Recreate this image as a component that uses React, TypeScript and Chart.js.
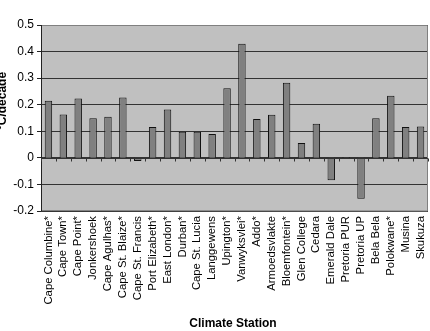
import React, { useEffect, useRef } from "react";
import { Chart, registerables } from "chart.js";

Chart.register(...registerables);

const stations: string[] = [
  "Cape Columbine*", "Cape Town*", "Cape Point*", "Jonkershoek", "Cape Agulhas*",
  "Cape St. Blaize*", "Cape St. Francis", "Port Elizabeth*", "East London*", "Durban*",
  "Cape St. Lucia", "Langgewens", "Upington*", "Vanwyksvlei*", "Addo*",
  "Armoedsvlakte", "Bloemfontein*", "Glen College", "Cedara", "Emerald Dale",
  "Pretoria PUR", "Pretoria UP", "Bela Bela", "Polokwane*", "Musina", "Skukuza",
];

const trend: number[] = [
  0.215, 0.163, 0.223, 0.149, 0.155,
  0.227, -0.012, 0.116, 0.182, 0.098,
  0.098, 0.09, 0.262, 0.429, 0.146,
  0.162, 0.283, 0.056, 0.128, -0.084,
  0.003, -0.154, 0.149, 0.234, 0.116, 0.118,
];

const yMin = -0.2;
const yMax = 0.5;
const yStep = 0.1;

const xTitle = "Climate Station";
const yTitle = "°C/decade";

const PLOT_LEFT = 41;
const PLOT_TOP = 25;
const PLOT_BOTTOM = 211;
const W = 430;
const H = 331;

// Grey plot panel, frame, zero-line tick marks and axis titles
const framePlugin = {
  id: "frame",
  beforeDraw(chart: any) {
    const { ctx, chartArea } = chart;
    ctx.save();
    ctx.fillStyle = "#c0c0c0";
    ctx.fillRect(chartArea.left, chartArea.top, chartArea.right - chartArea.left, chartArea.bottom - chartArea.top);
    ctx.restore();
  },
  afterDraw(chart: any) {
    const { ctx, chartArea, scales } = chart;
    const x = scales.x;
    const y = scales.y;
    ctx.save();
    // top and right border
    ctx.strokeStyle = "#808080";
    ctx.lineWidth = 1;
    ctx.beginPath();
    ctx.moveTo(chartArea.left, chartArea.top + 0.5);
    ctx.lineTo(chartArea.right - 0.5, chartArea.top + 0.5);
    ctx.lineTo(chartArea.right - 0.5, chartArea.bottom);
    ctx.lineTo(chartArea.left, chartArea.bottom - 0.5);
    ctx.stroke();
    // left axis line
    ctx.strokeStyle = "#222";
    ctx.beginPath();
    ctx.moveTo(chartArea.left + 0.5, chartArea.top);
    ctx.lineTo(chartArea.left + 0.5, chartArea.bottom);
    ctx.stroke();
    // tick marks along the zero line between categories
    const y0 = Math.round(y.getPixelForValue(0)) + 0.5;
    ctx.strokeStyle = "#333";
    ctx.beginPath();
    ctx.moveTo(chartArea.left, y0);
    ctx.lineTo(chartArea.right, y0);
    for (let i = 0; i <= stations.length; i++) {
      const px = Math.round(x.getPixelForValue(i - 0.5)) + 0.5;
      ctx.moveTo(px, y0);
      ctx.lineTo(px, y0 + 3);
    }
    ctx.stroke();
    // axis titles
    ctx.fillStyle = "#000";
    ctx.font = "bold 12px Arial, 'Liberation Sans', sans-serif";
    ctx.textAlign = "center";
    ctx.textBaseline = "middle";
    ctx.fillText(xTitle, 233, 324);
    ctx.translate(6, 101);
    ctx.rotate(-Math.PI / 2);
    ctx.textBaseline = "alphabetic";
    ctx.fillText(yTitle, 0, 0);
    ctx.restore();
  },
};

export default function App() {
  const ref = useRef<HTMLCanvasElement | null>(null);

  useEffect(() => {
    if (!ref.current) return;
    const chart = new Chart(ref.current, {
      type: "bar",
      data: {
        labels: stations,
        datasets: [
          {
            data: trend,
            backgroundColor: "#808080",
            borderColor: "#111",
            borderWidth: 1,
            barPercentage: 0.5,
            categoryPercentage: 1,
          },
        ],
      },
      options: {
        animation: false,
        responsive: false,
        devicePixelRatio: 1,
        layout: { padding: { top: PLOT_TOP, right: 2, left: 0, bottom: 0 } },
        plugins: { legend: { display: false }, tooltip: { enabled: false } },
        scales: {
          x: {
            grid: { display: false, drawTicks: false },
            border: { display: false },
            ticks: {
              minRotation: 90,
              maxRotation: 90,
              autoSkip: false,
              padding: 5,
              color: "#000",
              font: { family: "Arial, 'Liberation Sans', sans-serif", size: 11.3 },
            },
            afterFit(scale: any) {
              scale.height = H - PLOT_BOTTOM;
              scale.paddingLeft = 0;
              scale.paddingRight = 0;
            },
          },
          y: {
            min: yMin,
            max: yMax,
            grid: {
              color: "#333",
              lineWidth: 1,
              drawTicks: true,
              tickLength: 4,
              tickColor: "#222",
            },
            border: { display: false },
            ticks: {
              stepSize: yStep,
              padding: 3,
              color: "#000",
              font: { family: "Arial, 'Liberation Sans', sans-serif", size: 12 },
              callback: (v: any) => {
                const n = Math.round(Number(v) * 10) / 10;
                return n === 0 ? "0" : n.toFixed(1);
              },
            },
            afterFit(scale: any) {
              scale.width = PLOT_LEFT;
              scale.paddingTop = 0;
              scale.paddingBottom = 0;
            },
          },
        },
      },
      plugins: [framePlugin],
    });
    return () => chart.destroy();
  }, []);

  return (
    <div style={{ position: "absolute", left: 0, top: 0, width: W, height: H, background: "#fff" }}>
      <canvas ref={ref} width={W} height={H} style={{ width: W, height: H, display: "block" }} />
    </div>
  );
}
